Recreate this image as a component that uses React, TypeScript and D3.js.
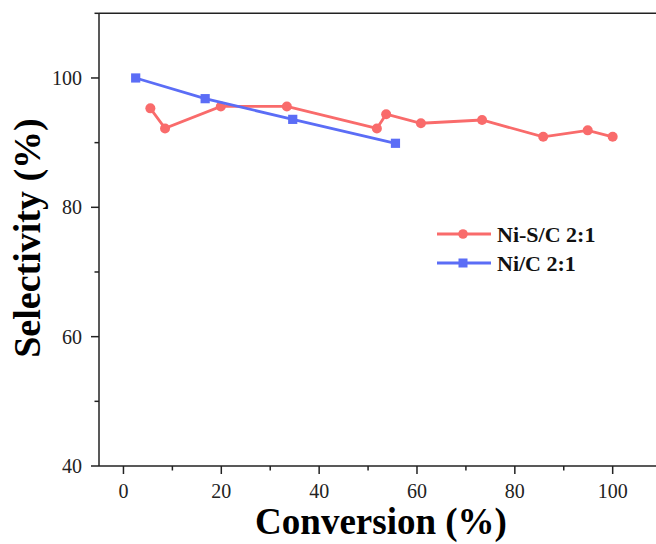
import React from "react";
import * as d3 from "d3";

const seriesNames = ["Ni-S/C 2:1", "Ni/C 2:1"];
const niSConv = [5.5, 8.5, 19.9, 33.4, 51.8, 53.7, 60.8, 73.3, 85.8, 94.9, 100];
const niSSel = [95.3, 92.2, 95.6, 95.6, 92.2, 94.4, 93.0, 93.5, 90.9, 91.9, 90.9];
const niConv = [2.5, 16.7, 34.6, 55.6];
const niSel = [100, 96.8, 93.6, 89.9];
const xTicks = [0, 20, 40, 60, 80, 100];
const xMinor = [10, 30, 50, 70, 90, 110];
const yTicks = [40, 60, 80, 100];
const yMinor = [50, 70, 90, 110];

const W = 656, H = 544;
const RED = "#F96B6B";
const BLUE = "#5B6DF6";
const FONT = "'Liberation Serif', 'Times New Roman', serif";

export default function App() {
  const x = d3.scaleLinear().domain([-5, 110]).range([99, 661.6]);
  const y = d3.scaleLinear().domain([40, 110]).range([466, 13.3]);
  const line = d3.line<[number, number]>().x(d => x(d[0])).y(d => y(d[1]));
  const red: [number, number][] = niSConv.map((c, i) => [c, niSSel[i]]);
  const blue: [number, number][] = niConv.map((c, i) => [c, niSel[i]]);
  const axisColor = "#222";
  const [x0, x1] = x.range();
  const [y0, y1] = y.range();
  return (
    <svg width={W} height={H} style={{ position: "absolute", left: 0, top: 0, background: "#fff" }} fontFamily={FONT}>
      {/* frame */}
      <line x1={x0} x2={x0} y1={y0} y2={y1} stroke={axisColor} strokeWidth={1.5} />
      <line x1={x0} x2={x1} y1={y0} y2={y0} stroke={axisColor} strokeWidth={1.5} />
      <line x1={x0} x2={x1} y1={y1} y2={y1} stroke={axisColor} strokeWidth={1.5} />
      <line x1={x1} x2={x1} y1={y0} y2={y1} stroke={axisColor} strokeWidth={1.5} />
      {/* x ticks */}
      {xTicks.map(t => (
        <g key={"xt" + t}>
          <line x1={x(t)} x2={x(t)} y1={y0} y2={y0 + 8} stroke={axisColor} strokeWidth={1.5} />
          <text x={x(t)} y={498} textAnchor="middle" fontSize={20} fill="#222">{t}</text>
        </g>
      ))}
      {xMinor.map(t => (
        <line key={"xm" + t} x1={x(t)} x2={x(t)} y1={y0} y2={y0 + 4.5} stroke={axisColor} strokeWidth={1.5} />
      ))}
      {/* y ticks */}
      {yTicks.map(t => (
        <g key={"yt" + t}>
          <line x1={x0} x2={x0 - 8} y1={y(t)} y2={y(t)} stroke={axisColor} strokeWidth={1.5} />
          <text x={82} y={y(t) + 7} textAnchor="end" fontSize={20} fill="#222">{t}</text>
        </g>
      ))}
      {yMinor.map(t => (
        <line key={"ym" + t} x1={x0} x2={x0 - 4.5} y1={y(t)} y2={y(t)} stroke={axisColor} strokeWidth={1.5} />
      ))}
      {/* axis titles */}
      <text x={381} y={534} textAnchor="middle" fontSize={37} fontWeight="bold" fill="#000">Conversion (%)</text>
      <text transform={`translate(40,238) rotate(-90)`} textAnchor="middle" fontSize={38} fontWeight="bold" fill="#000">Selectivity (%)</text>
      {/* series */}
      <path d={line(red) || ""} fill="none" stroke={RED} strokeWidth={2.8} />
      {red.map((d, i) => (
        <circle key={"r" + i} cx={x(d[0])} cy={y(d[1])} r={5} fill={RED} />
      ))}
      <path d={line(blue) || ""} fill="none" stroke={BLUE} strokeWidth={2.8} />
      {blue.map((d, i) => (
        <rect key={"b" + i} x={x(d[0]) - 4.6} y={y(d[1]) - 4.6} width={9.2} height={9.2} fill={BLUE} />
      ))}
      {/* legend */}
      <g>
        <line x1={437} x2={491} y1={234} y2={234} stroke={RED} strokeWidth={2.8} />
        <circle cx={463} cy={234} r={4.8} fill={RED} />
        <text x={497} y={241.5} fontSize={22} fontWeight="bold" fill="#111">{seriesNames[0]}</text>
        <line x1={437} x2={491} y1={263} y2={263} stroke={BLUE} strokeWidth={2.8} />
        <rect x={463 - 4.5} y={263 - 4.5} width={9} height={9} fill={BLUE} />
        <text x={497} y={270.5} fontSize={22} fontWeight="bold" fill="#111">{seriesNames[1]}</text>
      </g>
    </svg>
  );
}
